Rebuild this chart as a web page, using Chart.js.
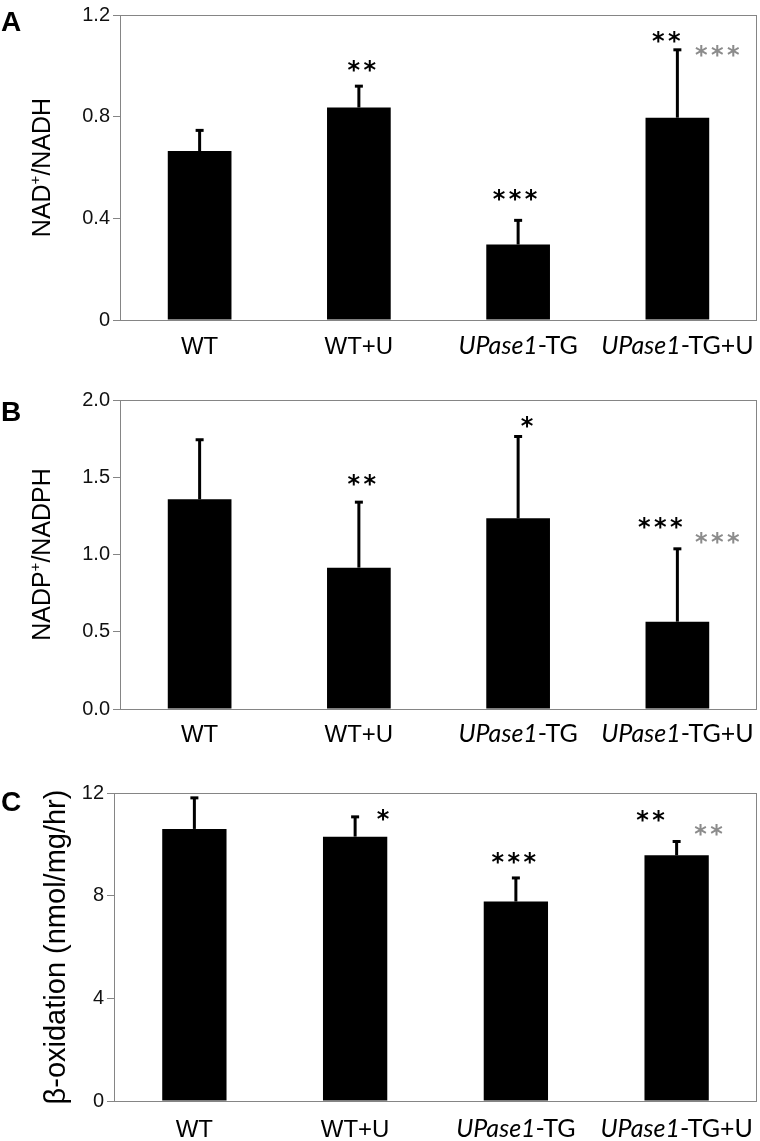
<!DOCTYPE html>
<html>
<head>
<meta charset="utf-8">
<script src="https://cdn.jsdelivr.net/npm/chart.js@4.4.0/dist/chart.umd.min.js"></script>
<style>
    body { margin: 0; background: #fff; width: 760px; height: 1141px; position: relative; overflow: hidden; }
    .panel { position: absolute; left: 0; }
</style>
</head>
<body>
<div class="panel" style="top:0"><canvas id="chartA" width="760" height="370"></canvas></div>
<div class="panel" style="top:370px"><canvas id="chartB" width="760" height="380"></canvas></div>
<div class="panel" style="top:750px"><canvas id="chartC" width="760" height="391"></canvas></div>
<script>
const categories = ['WT', 'WT+U', 'UPase1-TG', 'UPase1-TG+U'];

// A: NAD+/NADH
const nadRatio = [0.665, 0.836, 0.297, 0.796];
const nadError = [0.083, 0.086, 0.097, 0.269];
const nadTicks = [0, 0.4, 0.8, 1.2];
const nadVsWT = ['', '**', '***', '**'];
const nadVsTG = ['', '', '', '***'];

// B: NADP+/NADPH
const nadpRatio = [1.357, 0.915, 1.234, 0.565];
const nadpError = [0.389, 0.427, 0.533, 0.475];
const nadpTicks = [0, 0.5, 1.0, 1.5, 2.0];
const nadpVsWT = ['', '**', '*', '***'];
const nadpVsTG = ['', '', '', '***'];

// C: beta-oxidation
const betaOx = [10.6, 10.3, 7.77, 9.57];
const betaOxError = [1.23, 0.79, 0.94, 0.56];
const betaOxTicks = [0, 4, 8, 12];
const betaVsWT = ['', '*', '***', '**'];
const betaVsTG = ['', '', '', '**'];

const AXIS_GREY = '#858585';
const SANS = "Arial, 'Liberation Sans', sans-serif";
const HUMAN = "Lato, 'Open Sans', sans-serif";

/**
 * draw text pieces side by side, centred on cx
 */
let drawPieces = function (ctx, pieces, cx, y) {
    let total = 0;
    pieces.forEach(function (p) {
        ctx.font = p.font;
        p.w = ctx.measureText(p.t).width;
        total += p.w;
    });
    let x = cx - total / 2;
    pieces.forEach(function (p) {
        ctx.font = p.font;
        ctx.fillText(p.t, x, y + (p.dy || 0));
        x += p.w;
    });
};

let labelPieces = function (label) {
    if (label.indexOf('UPase1') === 0) {
        return [
            {t: 'UPase1', font: 'italic 25px ' + HUMAN},
            {t: label.substring(6), font: '25px ' + HUMAN}
        ];
    }
    return [{t: label, font: '24px ' + SANS}];
};

let drawStars = function (ctx, text, color, cx, cy) {
    if (!text) {
        return;
    }
    ctx.save();
    ctx.font = "bold 24px 'DejaVu Sans', sans-serif";
    ctx.fillStyle = color;
    ctx.textAlign = 'center';
    ctx.textBaseline = 'alphabetic';
    let m = ctx.measureText('*');
    let base = cy + (m.actualBoundingBoxAscent - m.actualBoundingBoxDescent) / 2;
    let pitch = 16;
    let start = cx - (text.length - 1) * pitch / 2;
    for (let k = 0; k < text.length; k++) {
        ctx.fillText('*', start + k * pitch, base);
    }
    ctx.restore();
};

/**
 * build one panel
 * @param id canvas id
 * @param p panel settings
 */
let panelChart = function (id, p) {
    let canvas = document.getElementById(id);
    let decor = {
        id: 'decor',
        afterDatasetsDraw: function (chart) {
            let ctx = chart.ctx;
            let area = chart.chartArea;
            let y = chart.scales.y;
            let bars = chart.getDatasetMeta(0).data;
            ctx.save();

            // frame
            ctx.strokeStyle = AXIS_GREY;
            ctx.lineWidth = 1;
            ctx.strokeRect(area.left + 0.5, area.top + 0.5, area.right - area.left - 1, area.bottom - area.top);

            // error bars (upper only)
            ctx.strokeStyle = '#000';
            ctx.fillStyle = '#000';
            ctx.lineWidth = 3;
            let tops = [];
            bars.forEach(function (bar, i) {
                let top = y.getPixelForValue(p.values[i] + p.errors[i]);
                tops.push(top);
                ctx.beginPath();
                ctx.moveTo(bar.x, bar.y);
                ctx.lineTo(bar.x, top);
                ctx.stroke();
                ctx.fillRect(bar.x - 4, top - 1, 8, 3);
            });

            // significance marks
            p.marks.forEach(function (m) {
                let text = m.grey ? p.vsTG[m.i] : p.vsWT[m.i];
                drawStars(ctx, text, m.grey ? '#8c8c8c' : '#000', bars[m.i].x + m.dx, tops[m.i] + m.dy);
            });

            // category labels
            ctx.fillStyle = '#000';
            ctx.textAlign = 'left';
            ctx.textBaseline = 'alphabetic';
            bars.forEach(function (bar, i) {
                drawPieces(ctx, labelPieces(categories[i]), chart.scales.x.getPixelForTick(i), area.bottom + p.labelGap);
            });

            // y title
            ctx.save();
            ctx.translate(p.titleX, (area.top + area.bottom) / 2);
            ctx.rotate(-Math.PI / 2);
            ctx.textBaseline = 'middle';
            drawPieces(ctx, p.title, 0, 0);
            ctx.restore();

            // panel letter
            ctx.font = 'bold 28px ' + SANS;
            ctx.textBaseline = 'alphabetic';
            ctx.fillText(p.letter, 1, p.letterY);
            ctx.restore();
        }
    };

    return new Chart(canvas.getContext('2d'), {
        type: 'bar',
        data: {
            labels: categories,
            datasets: [{
                data: p.values,
                backgroundColor: '#000',
                borderWidth: 0,
                barPercentage: 0.4,
                categoryPercentage: 1.0
            }]
        },
        options: {
            responsive: false,
            animation: false,
            layout: {padding: {top: p.top, right: 3, left: 0, bottom: 0}},
            plugins: {legend: {display: false}, tooltip: {enabled: false}},
            scales: {
                x: {
                    grid: {display: false},
                    border: {display: false},
                    ticks: {display: false},
                    afterFit: function (scale) {
                        scale.height = canvas.height - p.bottom;
                    }
                },
                y: {
                    min: p.ticks[0],
                    max: p.ticks[p.ticks.length - 1],
                    grid: {drawOnChartArea: false, drawTicks: true, tickLength: 7, color: AXIS_GREY},
                    border: {display: false},
                    ticks: {
                        stepSize: p.ticks[1] - p.ticks[0],
                        padding: 3,
                        color: '#111',
                        font: {family: SANS, size: 20},
                        callback: function (v) {
                            return p.decimals ? v.toFixed(p.decimals) : String(parseFloat(v.toFixed(2)));
                        }
                    },
                    afterFit: function (scale) {
                        scale.width = p.left;
                    }
                }
            }
        },
        plugins: [decor]
    });
};

panelChart('chartA', {
    values: nadRatio, errors: nadError, ticks: nadTicks, vsWT: nadVsWT, vsTG: nadVsTG,
    top: 10, bottom: 320, left: 120, labelGap: 34, decimals: 0,
    titleX: 43, letter: 'A', letterY: 31,
    title: [
        {t: 'NAD', font: '25px ' + SANS},
        {t: '+', font: '15px ' + SANS, dy: -7},
        {t: '/NADH', font: '25px ' + SANS}
    ],
    marks: [
        {i: 1, dx: 3, dy: -20},
        {i: 2, dx: -3, dy: -25},
        {i: 3, dx: -11, dy: -12},
        {i: 3, dx: 40, dy: 2, grey: true}
    ]
});

panelChart('chartB', {
    values: nadpRatio, errors: nadpError, ticks: nadpTicks, vsWT: nadpVsWT, vsTG: nadpVsTG,
    top: 30, bottom: 339, left: 120, labelGap: 33, decimals: 1,
    titleX: 43, letter: 'B', letterY: 51,
    title: [
        {t: 'NADP', font: '25px ' + SANS},
        {t: '+', font: '15px ' + SANS, dy: -7},
        {t: '/NADPH', font: '25px ' + SANS}
    ],
    marks: [
        {i: 1, dx: 3, dy: -22},
        {i: 2, dx: 9, dy: -14},
        {i: 3, dx: -17, dy: -25},
        {i: 3, dx: 40, dy: -10, grey: true}
    ]
});

panelChart('chartC', {
    values: betaOx, errors: betaOxError, ticks: betaOxTicks, vsWT: betaVsWT, vsTG: betaVsTG,
    top: 43, bottom: 351, left: 114, labelGap: 36, decimals: 0,
    titleX: 57, letter: 'C', letterY: 61,
    title: [{t: 'β-oxidation (nmol/mg/hr)', font: '29px ' + SANS}],
    marks: [
        {i: 1, dx: 28, dy: -1},
        {i: 2, dx: -2, dy: -19},
        {i: 3, dx: -26, dy: -25},
        {i: 3, dx: 32, dy: -11, grey: true}
    ]
});
</script>
</body>
</html>
